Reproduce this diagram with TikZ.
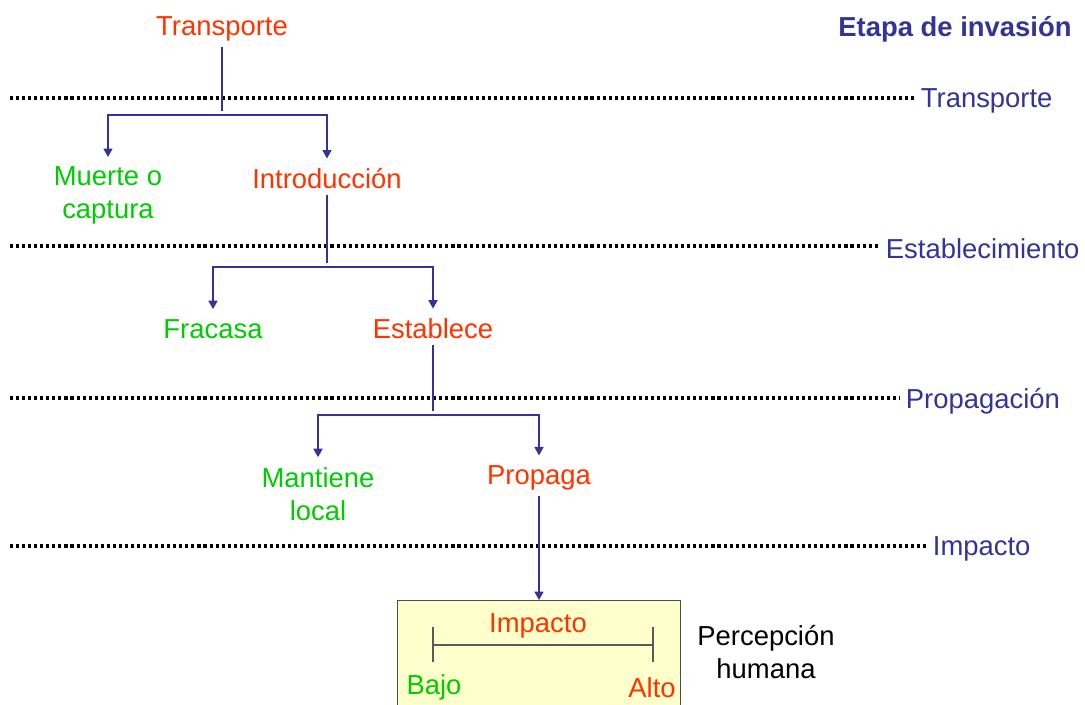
\documentclass[tikz,border=0pt]{standalone}
\usepackage{fontspec}
\setmainfont{Liberation Sans}
\usetikzlibrary{arrows.meta, positioning}

\definecolor{rojo}{RGB}{255,51,0}
\definecolor{verde}{RGB}{0,204,0}
\definecolor{azul}{RGB}{51,51,153}
\definecolor{crema}{RGB}{255,255,204}

\begin{document}
\begin{tikzpicture}[x=0.025cm, y=-0.025cm,
        txt/.style={font=\fontsize{19.5}{23.4}\selectfont, inner sep=4pt, align=center, yshift=-2pt},
        ok/.style={txt, text=rojo},
        fail/.style={txt, text=verde},
        stage/.style={txt, text=azul, anchor=west},
        link/.style={draw=azul, line width=0.9pt, -{Triangle[length=6pt, width=6.5pt]}, shorten >=3pt},
        dots/.style={draw=black, line width=2.3pt, dash pattern=on 2.2pt off 2.1pt},
        scaleline/.style={draw=black!65, line width=0.8pt}
    ]
    \useasboundingbox (0,0) rectangle (1085,704);
    % Title
    \node[txt, text=azul, font=\fontsize{19.5}{23.4}\selectfont\bfseries] (title) at (955,26) {Etapa de invasión};
    % Stage lines
    \node[stage] (sTrans) at (915,98) {Transporte};
    \node[stage] (sEst) at (880,246) {Establecimiento};
    \node[stage] (sProp) at (900,398) {Propagación};
    \node[stage] (sImp) at (927,546) {Impacto};
    \draw[dots] (10,98) -- (sTrans.west |- 0,98);
    \draw[dots] (10,246) -- (sEst.west |- 0,246);
    \draw[dots] (10,398) -- (sProp.west |- 0,398);
    \draw[dots] (10,546) -- (sImp.west |- 0,546);
    % Tree
    \node[ok] (trans) at (222,26) {Transporte};
    \node[fail] (muerte) at (108,193) {Muerte o\\captura};
    \node[ok] (intro) at (327,176) {Introducción};
    \node[fail] (fracasa) at (213,326) {Fracasa};
    \node[ok] (establece) at (433,326) {Establece};
    \node[fail] (mantiene) at (318,491) {Mantiene\\local};
    \node[ok] (propaga) at (539,475) {Propaga};
    \coordinate (f1) at (222,115);
    \coordinate (f2) at (327,267);
    \coordinate (f3) at (433,415);
    % Connections
    \draw[link, -] (trans.south) -- (f1);
    \draw[link] (f1) -| (muerte.north);
    \draw[link] (f1) -| (intro.north);
    \draw[link, -] (intro.south) -- (f2);
    \draw[link] (f2) -| (fracasa.north);
    \draw[link] (f2) -| (establece.north);
    \draw[link, -] (establece.south) -- (f3);
    \draw[link] (f3) -| (mantiene.north);
    \draw[link] (f3) -| (propaga.north);
    % Impact box
    \node[draw=black!70, fill=crema, line width=0.8pt, minimum width=7.075cm, minimum height=2.7cm, anchor=north] (box) at (539,600) {};
    \draw[link, shorten >=0pt] (propaga.south) -- (box.north);
    \draw[scaleline] (433,645) -- (653,645);
    \draw[scaleline] (433,627) -- (433,662);
    \draw[scaleline] (653,627) -- (653,662);
    \node[ok] (impacto) at (538,623) {Impacto};
    \node[fail] (bajo) at (434,685) {Bajo};
    \node[ok] (alto) at (652,685) {Alto};
    \node[txt] (percep) at (766,649) {Percepción\\humana};
\end{tikzpicture}
\end{document}
